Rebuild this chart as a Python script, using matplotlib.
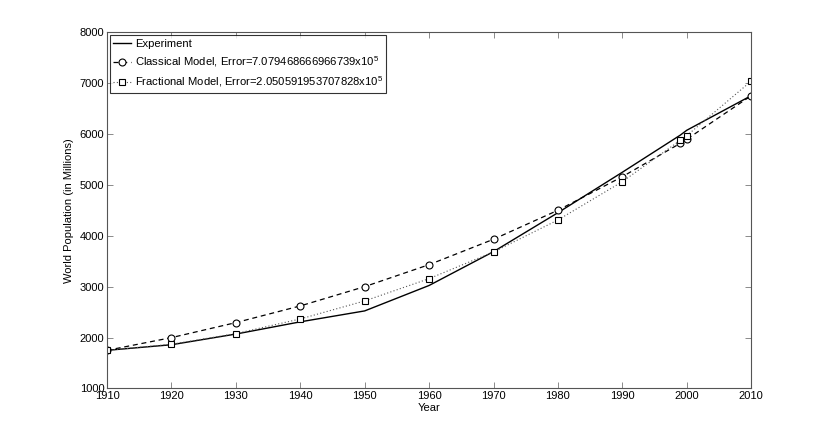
import matplotlib
matplotlib.use("Agg")
import matplotlib.pyplot as plt

# world population, in millions
years = [1910, 1920, 1930, 1940, 1950, 1960, 1970, 1980, 1990, 1999, 2000, 2010]
experiment = [1750, 1860, 2070, 2310, 2525, 3025, 3690, 4455, 5250, 5980, 6075, 6755]
classical = [1750, 2000, 2295, 2623, 3002, 3434, 3933, 4503, 5163, 5819, 5898, 6754]
fractional = [1750, 1870, 2079, 2367, 2721, 3159, 3684, 4312, 5065, 5878, 5969, 7041]

x_ticks = [1910, 1920, 1930, 1940, 1950, 1960, 1970, 1980, 1990, 2000, 2010]
y_ticks = [1000, 2000, 3000, 4000, 5000, 6000, 7000, 8000]

plt.rcParams["font.family"] = ["Liberation Sans", "DejaVu Sans"]
plt.rcParams["mathtext.fontset"] = "custom"
plt.rcParams["mathtext.rm"] = "Liberation Sans"
plt.rcParams["mathtext.it"] = "Liberation Sans"
plt.rcParams["mathtext.default"] = "rm"

fig = plt.figure(figsize=(8.3, 4.37), dpi=100)
ax = fig.add_axes([0.129, 0.111, 0.776, 0.815])

ax.plot(years, experiment, color="black", linewidth=1.0, label="Experiment")
ax.plot(years, classical, color="black", linewidth=0.9, linestyle=(0, (4, 3)),
        marker="o", markersize=5, markerfacecolor="white", markeredgewidth=0.8,
        label="Classical Model, Error=7.079468666966739x10$^{5}$")
ax.plot(years, fractional, color="#555555", linewidth=0.8, linestyle=(0, (1, 2)),
        marker="s", markersize=4.5, markerfacecolor="white", markeredgecolor="black",
        markeredgewidth=0.8,
        label="Fractional Model, Error=2.050591953707828x10$^{5}$")

ax.set_xlim(1910, 2010)
ax.set_ylim(1000, 8000)
ax.set_xticks(x_ticks)
ax.set_yticks(y_ticks)
ax.tick_params(direction="in", length=4, width=0.6, color="#777777",
               top=True, right=True, labelsize=8, pad=2)
for s in ax.spines.values():
    s.set_color("#555555")
    s.set_linewidth(0.8)

ax.set_xlabel("Year", fontsize=8, labelpad=1)
ax.set_ylabel("World Population (in Millions)", fontsize=8, labelpad=4)

leg = ax.legend(loc="upper left", fontsize=8.1, frameon=True, fancybox=False,
                edgecolor="black", handlelength=1.6, handletextpad=0.3,
                borderaxespad=0.25, borderpad=0.3, labelspacing=0.5)
leg.get_frame().set_linewidth(0.8)

fig.savefig("out.png", dpi=100)
